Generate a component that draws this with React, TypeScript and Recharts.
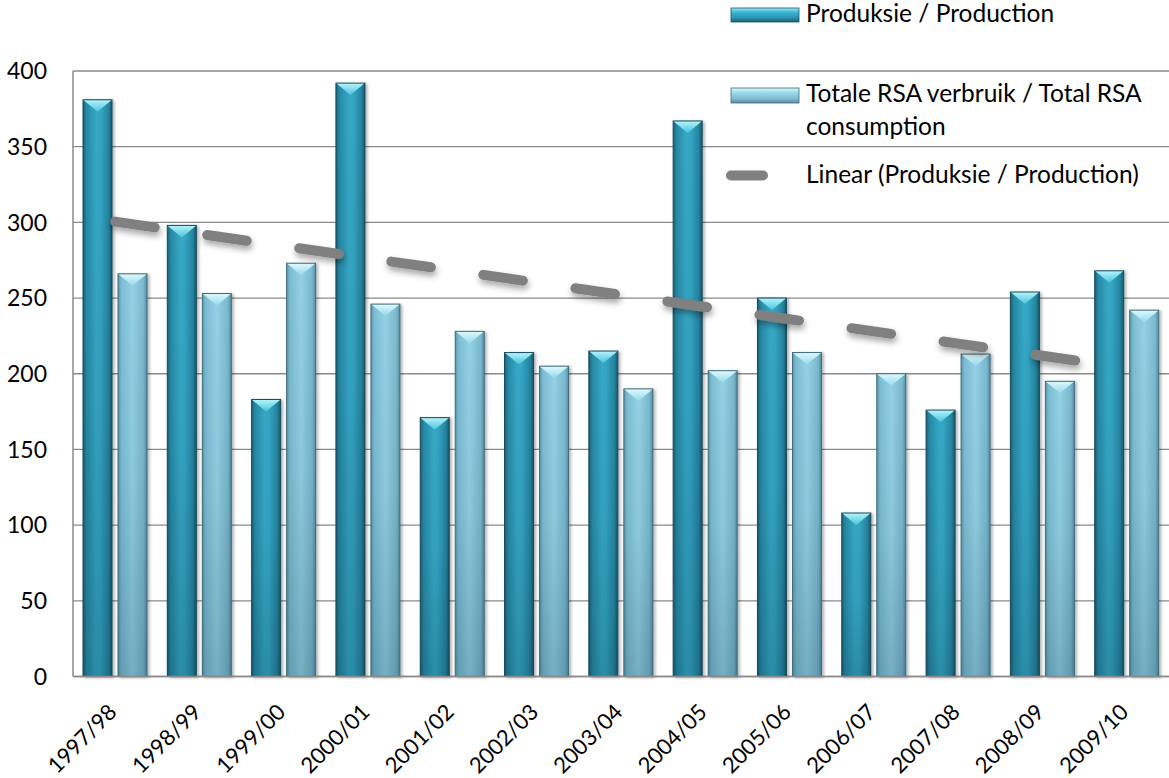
import React from 'react';
import { ComposedChart, Bar, Line, XAxis, YAxis, CartesianGrid, Legend } from 'recharts';

const categories = ['1997/98', '1998/99', '1999/00', '2000/01', '2001/02', '2002/03', '2003/04', '2004/05', '2005/06', '2006/07', '2007/08', '2008/09', '2009/10'];
const production = [381, 298, 183, 392, 171, 214, 215, 367, 250, 108, 176, 254, 268];
const consumption = [266, 253, 273, 246, 228, 205, 190, 202, 214, 200, 213, 195, 242];
const trend = [300.5, 292.4, 284.4, 276.3, 268.3, 260.2, 252.1, 244.1, 236.0, 228.0, 219.9, 211.9, 203.8];
const yTicks = [0, 50, 100, 150, 200, 250, 300, 350, 400];
const seriesNames = ['Produksie / Production', 'Totale RSA verbruik / Total RSA consumption', 'Linear (Produksie / Production)'];
const legendLines = [['Produksie / Production'], ['Totale RSA verbruik / Total RSA', 'consumption'], ['Linear (Produksie / Production)']];

const data = categories.map((c, i) => ({ cat: c, production: production[i], consumption: consumption[i], trend: trend[i] }));

const FONT = 'Lato, "Open Sans", sans-serif';

const BevelBar = (props: any) => {
  const { x, y, width, height, kind } = props;
  if (height == null || height <= 0) return null;
  const p = kind === 'prod' ? 'prod' : 'cons';
  const bev = Math.min(12, height);
  return (
    <g filter="url(#barShadow)">
      <rect x={x} y={y} width={width} height={height} fill={`url(#${p}Body)`} />
      <rect x={x} y={y} width={width} height={height} fill="url(#darkBottom)" />
      <polygon points={`${x},${y} ${x + width},${y} ${x + width / 2},${y + bev}`} fill={`url(#${p}Bevel)`} />
      <rect x={x} y={y} width={width} height={height} fill="none" stroke={kind === 'prod' ? '#174a59' : '#3f6c7b'} strokeWidth={1} />
    </g>
  );
};

const XTick = (props: any) => {
  const { x, y, payload } = props;
  return (
    <g transform={`translate(${x + 3},${y + 37})`}>
      <text textAnchor="end" transform="rotate(-45)" fontSize={22} fill="#000" fontFamily={FONT}>
        {payload.value}
      </text>
    </g>
  );
};

const LFS = 24.5;

const LegendContent = () => (
  <svg width={449} height={200} style={{ overflow: 'visible', display: 'block' }}>
    <defs>
      <linearGradient id="legProd" x1="0" y1="0" x2="0" y2="1">
        <stop offset="0" stopColor="#9aeaf7" />
        <stop offset="0.3" stopColor="#3ab6d2" />
        <stop offset="0.7" stopColor="#2b94b0" />
        <stop offset="1" stopColor="#1a5d70" />
      </linearGradient>
      <linearGradient id="legCons" x1="0" y1="0" x2="0" y2="1">
        <stop offset="0" stopColor="#d6f7fc" />
        <stop offset="0.3" stopColor="#9cdbec" />
        <stop offset="0.7" stopColor="#80bdd1" />
        <stop offset="1" stopColor="#5a8d9e" />
      </linearGradient>
      <filter id="legLineShadow" x="-20%" y="-100%" width="140%" height="300%">
        <feDropShadow dx="1" dy="3" stdDeviation="2" floodColor="#000" floodOpacity="0.25" />
      </filter>
    </defs>
    <rect x={11} y={8} width={68} height={14} fill="url(#legProd)" stroke="#1d5566" strokeWidth={0.8} />
    <text x={86} y={22} fontSize={LFS} fill="#000" fontFamily={FONT}>{legendLines[0][0]}</text>
    <rect x={11} y={88} width={68} height={15} fill="url(#legCons)" stroke="#3f6c7b" strokeWidth={0.8} />
    <text x={86} y={102} fontSize={LFS} fill="#000" fontFamily={FONT}>{legendLines[1][0]}</text>
    <text x={86} y={135} fontSize={LFS} fill="#000" fontFamily={FONT}>{legendLines[1][1]}</text>
    <line x1={11} y1={175.5} x2={43} y2={175.5} stroke="#808080" strokeWidth={10} strokeLinecap="round" />
    <text x={86} y={183} fontSize={LFS} fill="#000" fontFamily={FONT}>{legendLines[2][0]}</text>
  </svg>
);

export default function App() {
  return (
    <div style={{ position: 'absolute', left: 0, top: 0, width: 1169, height: 778, background: '#fff' }}>
      <ComposedChart
        width={1169}
        height={778}
        data={data}
        margin={{ top: 71, right: 0, bottom: 0, left: 0 }}
        barGap={6}
        barSize={29}
        style={{ fontFamily: FONT }}
      >
        <defs>
          <linearGradient id="prodBody" x1="0" y1="0" x2="1" y2="0">
            <stop offset="0" stopColor="#1a6176" />
            <stop offset="0.12" stopColor="#2789a5" />
            <stop offset="0.45" stopColor="#35a8c5" />
            <stop offset="0.6" stopColor="#34a5c3" />
            <stop offset="0.88" stopColor="#2584a0" />
            <stop offset="1" stopColor="#175769" />
          </linearGradient>
          <linearGradient id="consBody" x1="0" y1="0" x2="1" y2="0">
            <stop offset="0" stopColor="#5a97ab" />
            <stop offset="0.12" stopColor="#7cbdd3" />
            <stop offset="0.5" stopColor="#94d1e5" />
            <stop offset="0.88" stopColor="#79b8ce" />
            <stop offset="1" stopColor="#548fa3" />
          </linearGradient>
          <linearGradient id="darkBottom" x1="0" y1="0" x2="0" y2="1">
            <stop offset="0" stopColor="#002030" stopOpacity="0" />
            <stop offset="0.5" stopColor="#002030" stopOpacity="0.05" />
            <stop offset="1" stopColor="#002030" stopOpacity="0.2" />
          </linearGradient>
          <linearGradient id="prodBevel" x1="0" y1="0" x2="0" y2="1">
            <stop offset="0" stopColor="#b4f5fc" />
            <stop offset="1" stopColor="#4cc2dc" />
          </linearGradient>
          <linearGradient id="consBevel" x1="0" y1="0" x2="0" y2="1">
            <stop offset="0" stopColor="#e0fafd" />
            <stop offset="1" stopColor="#95d8eb" />
          </linearGradient>
          <filter id="barShadow" x="-30%" y="-10%" width="160%" height="120%">
            <feDropShadow dx="2" dy="1" stdDeviation="1.5" floodColor="#000" floodOpacity="0.3" />
          </filter>
          <filter id="lineShadow" x="-10%" y="-50%" width="120%" height="200%">
            <feDropShadow dx="1" dy="4" stdDeviation="3" floodColor="#000" floodOpacity="0.35" />
          </filter>
        </defs>
        <CartesianGrid vertical={false} stroke="#8a8a8a" strokeWidth={1.3} />
        <XAxis
          dataKey="cat"
          height={101.5}
          interval={0}
          tickLine={false}
          tickSize={0}
          tickMargin={0}
          axisLine={{ stroke: '#8a8a8a', strokeWidth: 1.5 }}
          tick={<XTick />}
        />
        <YAxis
          domain={[0, 400]}
          ticks={yTicks}
          width={73}
          tickLine={false}
          tickSize={0}
          tickMargin={26}
          axisLine={{ stroke: '#8a8a8a', strokeWidth: 1.5 }}
          tick={{ fill: '#000', fontSize: 23, fontFamily: FONT }}
        />
        <Legend
          layout="vertical"
          align="center"
          verticalAlign="middle"
          content={<LegendContent />}
          wrapperStyle={{ left: 720, top: 0, width: 449, height: 200 }}
        />
        <Bar dataKey="production" name={seriesNames[0]} isAnimationActive={false} shape={(p: any) => <BevelBar {...p} kind="prod" />} />
        <Bar dataKey="consumption" name={seriesNames[1]} isAnimationActive={false} shape={(p: any) => <BevelBar {...p} kind="cons" />} />
        <Line
          dataKey="trend"
          name={seriesNames[2]}
          type="linear"
          stroke="#808080"
          strokeWidth={10}
          strokeDasharray="40 53"
          strokeLinecap="round"
          dot={false}
          activeDot={false}
          filter="url(#lineShadow)"
          isAnimationActive={false}
        />
      </ComposedChart>
    </div>
  );
}
